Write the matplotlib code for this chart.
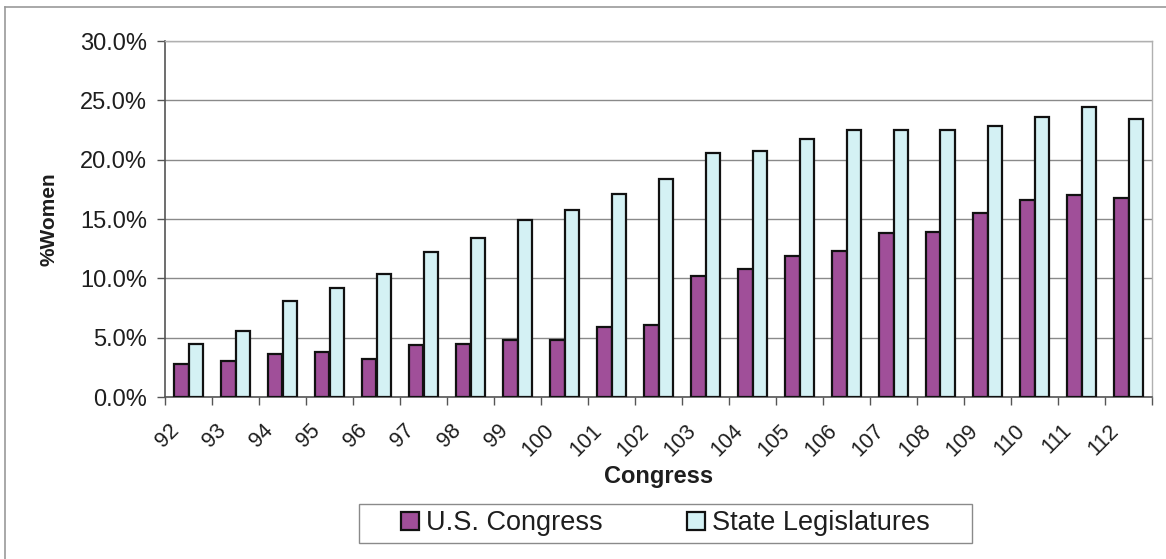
import matplotlib
matplotlib.use("Agg")
import matplotlib.pyplot as plt
import matplotlib.transforms as mtransforms
from matplotlib.patches import Rectangle
from matplotlib.lines import Line2D
from matplotlib.ticker import FuncFormatter, FixedLocator
import numpy as np

plt.rcParams['font.family'] = ['Liberation Sans', 'DejaVu Sans']

congress = ['92', '93', '94', '95', '96', '97', '98', '99', '100', '101', '102',
            '103', '104', '105', '106', '107', '108', '109', '110', '111', '112']
us_congress = [2.8, 3.0, 3.6, 3.8, 3.2, 4.4, 4.5, 4.8, 4.8, 5.9, 6.1,
               10.2, 10.8, 11.9, 12.3, 13.8, 13.9, 15.5, 16.6, 17.0, 16.8]
state_leg = [4.5, 5.6, 8.05, 9.2, 10.4, 12.2, 13.4, 14.9, 15.8, 17.1, 18.35,
             20.6, 20.7, 21.7, 22.5, 22.5, 22.5, 22.8, 23.6, 24.4, 23.4]
series_names = ['U.S. Congress', 'State Legislatures']
y_ticks = [0, 5, 10, 15, 20, 25, 30]

W, H = 1166, 559
fig = plt.figure(figsize=(W / 100, H / 100), dpi=100)
fig.patch.set_facecolor('white')

ax = fig.add_axes([165 / W, (H - 397) / H, (1152 - 165) / W, (397 - 41) / H])

x = np.arange(len(congress))
bw = 0.3
purple = '#A04F99'
cyan = '#D4F1F4'
txt = '#1e1e1e'

b1 = ax.bar(x - bw / 2, us_congress, width=bw, color=purple, edgecolor='#111111',
            linewidth=1.6, label=series_names[0], zorder=3)
b2 = ax.bar(x + bw / 2, state_leg, width=bw, color=cyan, edgecolor='#111111',
            linewidth=1.6, label=series_names[1], zorder=3)

ax.set_xlim(-0.5, len(congress) - 0.5)
ax.set_ylim(0, 30)
ax.set_yticks(y_ticks)
ax.yaxis.set_major_formatter(FuncFormatter(lambda v, p: f'{v:.1f}%'))
ax.yaxis.grid(True, color='#8a8a8a', linewidth=1.0, zorder=0)
ax.set_axisbelow(True)

ax.tick_params(axis='y', direction='out', length=6, width=1, color='#555555',
               labelsize=17, labelcolor=txt, pad=7)

ax.set_xticks(x)
ax.set_xticklabels(congress, rotation=45, ha='right', va='center',
                   rotation_mode='anchor', fontsize=15.5, color=txt)
ax.xaxis.set_minor_locator(FixedLocator(np.arange(-0.5, len(congress), 1.0)))
ax.tick_params(axis='x', which='major', length=0, pad=22)
ax.tick_params(axis='x', which='minor', direction='out', length=6, width=1, color='#555555')
offset = mtransforms.ScaledTranslation(-13 / 100, 0, fig.dpi_scale_trans)
for lab in ax.get_xticklabels():
    lab.set_transform(lab.get_transform() + offset)

for s in ['left', 'bottom']:
    ax.spines[s].set_color('#555555')
    ax.spines[s].set_linewidth(1.2)
for s in ['top', 'right']:
    ax.spines[s].set_color('#b0b0b0')
    ax.spines[s].set_linewidth(1.0)

ax.set_ylabel('%Women', fontsize=15, fontweight='bold', color=txt)
ax.yaxis.label.set_va('center')
ax.yaxis.set_label_coords((49 - 165) / (1152 - 165), 0.5)
ax.set_xlabel('Congress', fontsize=17, fontweight='bold', color=txt)
ax.xaxis.label.set_va('center')
ax.xaxis.set_label_coords(0.5, (397 - 476) / (397 - 41))

# legend
leg = fig.legend(handles=[b1, b2], labels=series_names, loc='center',
                 bbox_to_anchor=(665.5 / W, (H - 523.5) / H), ncol=2,
                 frameon=False, fontsize=19.5, handlelength=0.67, handleheight=0.67,
                 handletextpad=0.26, columnspacing=3.1, borderpad=0.2)
for t in leg.get_texts():
    t.set_color(txt)
fig.add_artist(Rectangle((359 / W, (H - 543) / H), (972 - 359) / W, (543 - 504) / H,
                         transform=fig.transFigure, facecolor='none',
                         edgecolor='#8a8a8a', linewidth=1.0))

# outer chart frame (left and top edges visible)
fig.add_artist(Line2D([5 / W, 5 / W], [0, (H - 7) / H], transform=fig.transFigure,
                      color='#9a9a9a', linewidth=1.2))
fig.add_artist(Line2D([5 / W, 1], [(H - 7) / H, (H - 7) / H], transform=fig.transFigure,
                      color='#9a9a9a', linewidth=1.2))

fig.savefig('out.png', dpi=100, facecolor='white')
